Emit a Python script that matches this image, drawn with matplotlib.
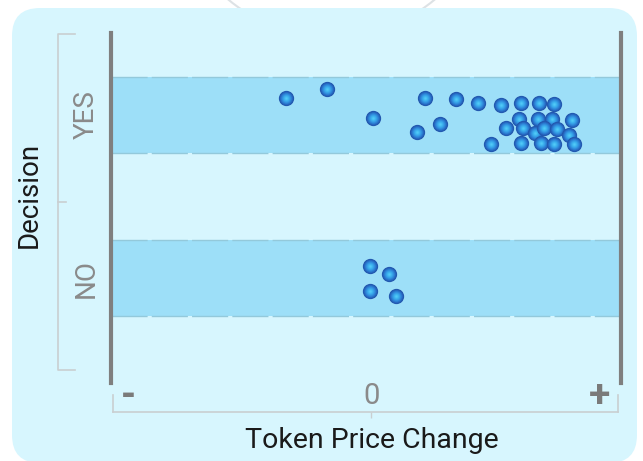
import matplotlib
matplotlib.use('Agg')
import matplotlib.pyplot as plt
from matplotlib.patches import FancyBboxPatch, Circle

plt.rcParams['font.family'] = ['Roboto', 'DejaVu Sans']

# ---------------- data ----------------
categories = ['NO', 'YES']
category_pos = [0, 1]

yes_price_change = [-0.335, -0.174, 0.009, 0.212, 0.333, 0.419, 0.511, 0.591, 0.659, 0.719,
                    0.180, 0.271, 0.470, 0.582, 0.530, 0.598, 0.657, 0.711, 0.789, 0.646,
                    0.681, 0.730, 0.779, 0.591, 0.669, 0.719, 0.796]
yes_offset = [0.106, 0.158, -0.017, 0.106, 0.098, 0.072, 0.063, 0.072, 0.072, 0.066,
              -0.102, -0.057, -0.180, -0.023, -0.082, -0.082, -0.023, -0.026, -0.031, -0.112,
              -0.082, -0.088, -0.123, -0.172, -0.172, -0.180, -0.180]

no_price_change = [-0.004, 0.070, -0.004, 0.098]
no_offset = [0.074, 0.023, -0.080, -0.109]

x_tick_labels = ['-', '0', '+']
x_tick_pos = [-0.955, 0.0, 0.896]
x_label = 'Token Price Change'
y_label = 'Decision'

# ---------------- figure ----------------
W, H = 643, 461
fig = plt.figure(figsize=(W / 100, H / 100), dpi=100, facecolor='white')

def px(x, y):
    return x / 100, (H - y) / 100

# faint circle behind card
circ = Circle(px(331.5, -124), 1.61, transform=fig.dpi_scale_trans, fill=False,
              edgecolor='#dde2e5', lw=1.5, zorder=-3)
fig.add_artist(circ)
# card
x0, y0 = px(12, 463)
x1, y1 = px(637, 8)
card = FancyBboxPatch((x0, y0), x1 - x0, y1 - y0, boxstyle='round,pad=0,rounding_size=0.28',
                      transform=fig.dpi_scale_trans, facecolor='#d7f6fe', edgecolor='none',
                      zorder=-2)
fig.add_artist(card)

ax_l, ax_r, ax_t, ax_b = 111, 621, 33, 383
ax = fig.add_axes([ax_l / W, (H - ax_b) / H, (ax_r - ax_l) / W, (ax_b - ax_t) / H])
ax.set_facecolor('none')
ax.set_xlim(-1.022, 0.982)
ax.set_ylim(-0.644, 1.503)

# bands
half = 0.233
for c in category_pos:
    ax.axhspan(c - half, c + half, color='#9ddff8', lw=0, zorder=1)
    for yy in (c - half, c + half):
        ax.axhline(yy, color='#93c9db', lw=1.0, ls=(0, (26, 3)), zorder=1.5)

# points
layers = [(11.0, '#2156ad'), (9.8, '#2563bb'), (8.5, '#2a75cc'), (7.2, '#2f88da'),
          (5.8, '#359be4'), (4.4, '#3badec'), (3.0, '#43bcf2'), (1.6, '#52c8f6')]
pts = [(x, 1 + o) for x, o in zip(yes_price_change, yes_offset)] + \
      [(x, 0 + o) for x, o in zip(no_price_change, no_offset)]
for i, (x, y) in enumerate(pts):
    for s, col in layers:
        ax.plot([x], [y], 'o', ms=s, color=col, mew=0, zorder=3 + i * 0.01)

# spines
for side in ('left', 'right'):
    ax.spines[side].set_color('#7f7f7f')
    ax.spines[side].set_linewidth(3.0)
ax.spines['top'].set_visible(False)
ax.spines['bottom'].set_position(('outward', 29 * 0.72))
ax.spines['bottom'].set_bounds(-1.014, 0.971)
ax.spines['bottom'].set_color('#c9cfd1')
ax.spines['bottom'].set_linewidth(1.2)

ax.set_xticks([0])
ax.set_xticklabels([])
ax.tick_params(axis='x', direction='out', length=4.5, width=1, color='#c9cfd1')

ax.set_yticks(category_pos)
ax.set_yticklabels(categories, rotation=90, va='center', fontsize=20, color='#8a8a8a')
ax.tick_params(axis='y', length=0, pad=8)

# x end caps
xt = ax.get_xaxis_transform()
for xx in (-1.014, 0.971):
    ax.plot([xx, xx], [-(412 - ax_b) / (ax_b - ax_t), -(395 - ax_b) / (ax_b - ax_t)],
            color='#c9cfd1', lw=1.2, transform=xt, clip_on=False)

# x tick labels
ly = -(396 - ax_b) / (ax_b - ax_t)
for lab, xx in zip(x_tick_labels, x_tick_pos):
    if lab == '0':
        ax.text(xx, ly, lab, transform=xt, ha='center', va='center', fontsize=21,
                color='#8a8a8a')
    else:
        ax.text(xx, ly, lab, transform=xt, ha='center', va='center', fontsize=28,
                color='#7a7a7a', fontweight='bold')

# y bracket
yt = ax.get_yaxis_transform()
bx = (58 - ax_l) / (ax_r - ax_l)
be = (75 - ax_l) / (ax_r - ax_l)
bm = (66 - ax_l) / (ax_r - ax_l)
ytop, ymid, ybot = 1.497, 0.466, -0.564
ax.plot([be, bx, bx, be], [ytop, ytop, ybot, ybot], color='#c9cfd1', lw=1.2,
        transform=yt, clip_on=False)
ax.plot([bx, bm], [ymid, ymid], color='#c9cfd1', lw=1.2, transform=yt, clip_on=False)

# axis titles
fig.text(372 / W, (H - 440) / H, x_label, ha='center', va='center', fontsize=20.5,
         color='#1a1a1a')
fig.text(29 / W, (H - 195) / H, y_label, ha='center', va='center', fontsize=20,
         rotation=90, color='#1a1a1a')

fig.savefig('out.png', dpi=100, facecolor='white')
